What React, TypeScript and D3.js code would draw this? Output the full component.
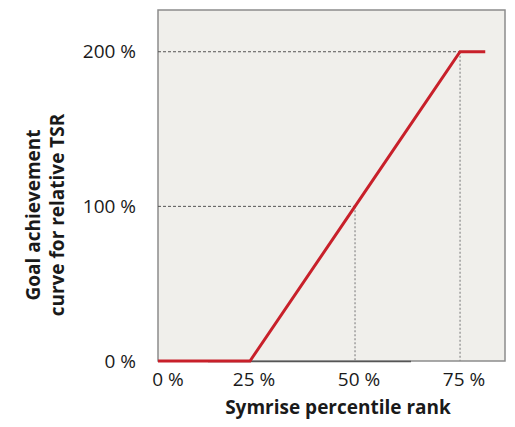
import { useEffect, useRef } from "react";
import * as d3 from "d3";

// goal achievement curve: percentile rank -> payout
const rankPoints = [0, 25, 50, 75, 81];
const payoutPoints = [0, 0, 100, 200, 200];
const xTicks = [0, 25, 50, 75];
const yTicks = [0, 100, 200];
const guideRanks = [50, 75];
const guidePayouts = [100, 200];

export default function App() {
  const svgRef = useRef<SVGSVGElement | null>(null);

  useEffect(() => {
    const svg = d3.select(svgRef.current);
    svg.selectAll("*").remove();

    const width = 515;
    const height = 427;
    const plot = { left: 158, right: 505, top: 10, bottom: 361 };
    const font = "'Open Sans', sans-serif";

    const x = d3.scaleLinear().domain([3.1, 85.7]).range([plot.left, plot.right]);
    const y = d3.scaleLinear().domain([0, 227]).range([plot.bottom, plot.top]);

    svg.attr("width", width).attr("height", height);

    svg.append("rect").attr("width", width).attr("height", height).attr("fill", "#ffffff");
    svg.append("rect").attr("width", 7).attr("height", height).attr("fill", "#f0efeb");

    svg
      .append("rect")
      .attr("x", plot.left)
      .attr("y", plot.top)
      .attr("width", plot.right - plot.left)
      .attr("height", plot.bottom - plot.top)
      .attr("fill", "#f0efeb")
      .attr("stroke", "#8c8c8c")
      .attr("stroke-width", 1.5);

    // guide lines
    guidePayouts.forEach((p, i) => {
      svg
        .append("line")
        .attr("x1", plot.left)
        .attr("x2", x(guideRanks[i]))
        .attr("y1", y(p))
        .attr("y2", y(p))
        .attr("stroke", "#555")
        .attr("stroke-width", 1)
        .attr("stroke-dasharray", "3,2");
      svg
        .append("line")
        .attr("x1", x(guideRanks[i]))
        .attr("x2", x(guideRanks[i]))
        .attr("y1", y(p))
        .attr("y2", plot.bottom)
        .attr("stroke", "#8a8a8a")
        .attr("stroke-width", 1.2)
        .attr("stroke-dasharray", "2,2");
    });

    // x axis base line
    svg
      .append("line")
      .attr("x1", 208)
      .attr("x2", 411)
      .attr("y1", plot.bottom + 0.5)
      .attr("y2", plot.bottom + 0.5)
      .attr("stroke", "#555")
      .attr("stroke-width", 1.5);

    const pts = rankPoints.map((r, i) => [r, payoutPoints[i]] as [number, number]);
    const line = d3
      .line<[number, number]>()
      .x((d) => Math.max(plot.left, x(d[0])))
      .y((d) => y(d[1]));

    svg
      .append("path")
      .attr("d", line(pts))
      .attr("fill", "none")
      .attr("stroke", "#c8202a")
      .attr("stroke-width", 3);

    svg
      .selectAll("text.ytick")
      .data(yTicks)
      .enter()
      .append("text")
      .attr("class", "ytick")
      .attr("x", 136)
      .attr("y", (d) => y(d))
      .attr("dy", "0.35em")
      .attr("text-anchor", "end")
      .attr("font-family", font)
      .attr("font-size", 19)
      .attr("fill", "#1a1a1a")
      .text((d) => `${d} %`);

    svg
      .selectAll("text.xtick")
      .data(xTicks)
      .enter()
      .append("text")
      .attr("class", "xtick")
      .attr("x", (d) => Math.max(plot.left + 10, x(d) + 4))
      .attr("y", 386)
      .attr("text-anchor", "middle")
      .attr("font-family", font)
      .attr("font-size", 19)
      .attr("fill", "#1a1a1a")
      .text((d) => `${d} %`);

    svg
      .append("text")
      .attr("x", 338)
      .attr("y", 414)
      .attr("text-anchor", "middle")
      .attr("font-family", font)
      .attr("font-size", 19)
      .attr("font-weight", "bold")
      .attr("fill", "#1a1a1a")
      .text("Symrise percentile rank");

    const yTitle = svg
      .append("text")
      .attr("transform", `translate(0, 215) rotate(-90)`)
      .attr("text-anchor", "middle")
      .attr("font-family", font)
      .attr("font-size", 19)
      .attr("font-weight", "bold")
      .attr("fill", "#1a1a1a");
    yTitle.append("tspan").attr("x", 0).attr("y", 40).text("Goal achievement");
    yTitle.append("tspan").attr("x", 0).attr("y", 64).text("curve for relative TSR");
  }, []);

  return (
    <div style={{ margin: -8, overflow: "hidden", height: 427 }}>
      <svg ref={svgRef} style={{ display: "block" }}></svg>
    </div>
  );
}
